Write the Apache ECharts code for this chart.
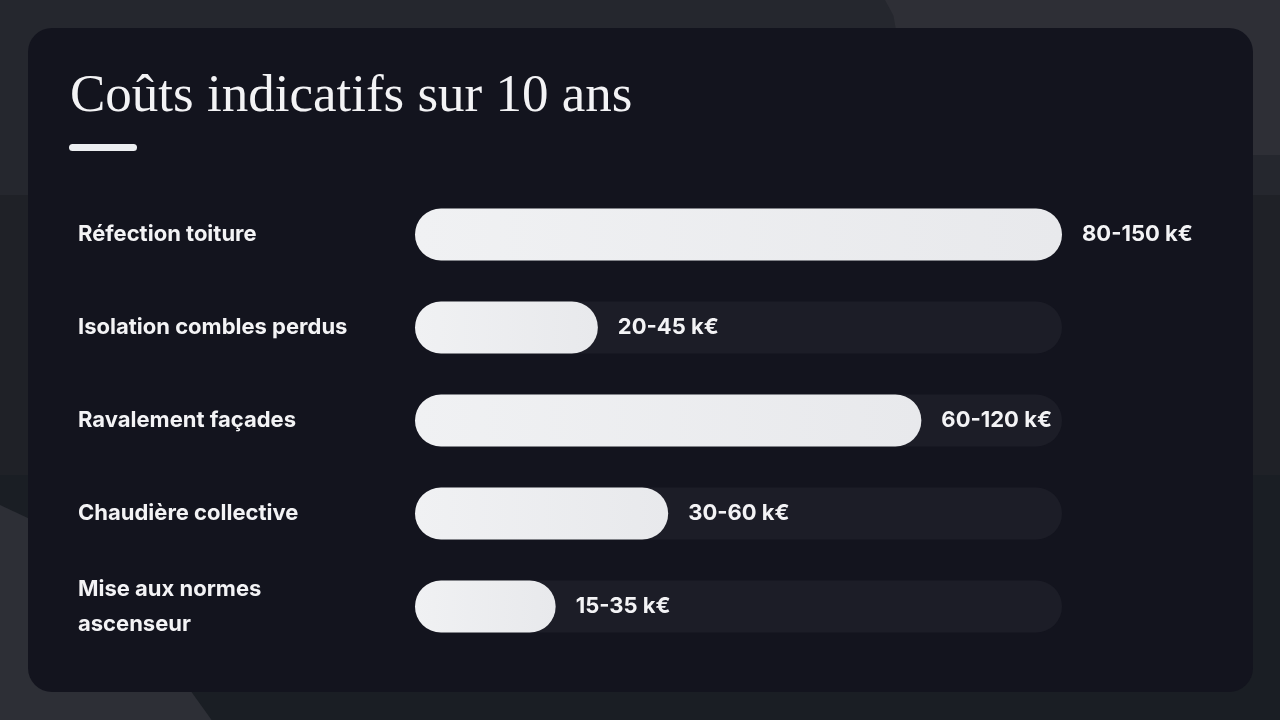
<!DOCTYPE html>
<html>
<head>
<meta charset="utf-8">
<script src="https://cdn.jsdelivr.net/npm/echarts@6/dist/echarts.min.js"></script>
<style>
  html, body { margin: 0; padding: 0; width: 1280px; height: 720px; overflow: hidden; }
  body { position: relative; background: #202228; }
  .bg { position: absolute; }
  .top-band { left: 0; top: 0; width: 1280px; height: 195px; background: #25272e; }
  .mid-band { left: 0; top: 195px; width: 1280px; height: 280px; background: #1f2127; }
  .low-band { left: 0; top: 475px; width: 1280px; height: 245px; background: #1a1e24; }
  .blob-tr {
    left: 885px; top: 0; width: 420px; height: 155px; background: #2e2f36;
    clip-path: polygon(0 0, 100% 0, 100% 100%, 8% 100%, 2% 10%);
  }
  .blob-bl {
    left: 0; top: 505px; width: 230px; height: 215px; background: #2d2f36;
    clip-path: polygon(0 0, 30% 15%, 45% 30%, 92% 100%, 0 100%);
  }
  .card {
    left: 28px; top: 28px; width: 1225px; height: 664px;
    background: #13141e; border-radius: 24px;
  }
  #chart { position: absolute; left: 0; top: 0; width: 1280px; height: 720px; }
</style>
</head>
<body>
<div class="bg top-band"></div>
<div class="bg mid-band"></div>
<div class="bg low-band"></div>
<div class="bg blob-tr"></div>
<div class="bg blob-bl"></div>
<div class="bg card"></div>
<div id="chart"></div>
<script>
// postes de travaux (ordre du haut vers le bas)
const categories = ['Réfection toiture', 'Isolation combles perdus', 'Ravalement façades', 'Chaudière collective', 'Mise aux normes ascenseur'];
// fourchettes affichées
const ranges = ['80-150 k€', '20-45 k€', '60-120 k€', '30-60 k€', '15-35 k€'];
// milieu de fourchette, en k€
const midValues = [115, 32.5, 90, 45, 25];

const chart = echarts.init(document.getElementById('chart'));

const option = {
  backgroundColor: 'transparent',
  animation: false,
  title: {
    text: 'Coûts indicatifs sur 10 ans',
    left: 65,
    top: 66,
    textStyle: {
      fontFamily: 'Liberation Serif',
      fontWeight: 'normal',
      fontSize: 53,
      color: '#f3f3f5'
    }
  },
  graphic: [{
    type: 'rect',
    left: 69,
    top: 144,
    shape: { width: 68, height: 7, r: 3.5 },
    style: { fill: '#eceef1' }
  }],
  grid: { left: 415, right: 218, top: 188, bottom: 67 },
  xAxis: {
    type: 'value',
    min: 0,
    max: 115,
    show: false
  },
  yAxis: {
    type: 'category',
    inverse: true,
    data: categories,
    axisLine: { show: false },
    axisTick: { show: false },
    axisLabel: {
      align: 'left',
      margin: 337,
      width: 285,
      overflow: 'break',
      lineHeight: 35,
      color: '#f3f3f5',
      fontFamily: 'Inter',
      fontWeight: 'bold',
      fontSize: 22
    }
  },
  series: [{
    type: 'bar',
    data: midValues,
    barWidth: 52,
    showBackground: true,
    backgroundStyle: { color: '#1c1d27', borderRadius: 26 },
    itemStyle: {
      borderRadius: 26,
      color: new echarts.graphic.LinearGradient(0, 0, 1, 0, [
        { offset: 0, color: '#f0f1f3' },
        { offset: 1, color: '#e8e9ec' }
      ])
    },
    label: {
      show: true,
      position: 'right',
      distance: 20,
      formatter: p => ranges[p.dataIndex],
      color: '#f3f3f5',
      fontFamily: 'Inter',
      fontWeight: 'bold',
      fontSize: 22
    }
  }]
};

chart.setOption(option);
</script>
</body>
</html>
